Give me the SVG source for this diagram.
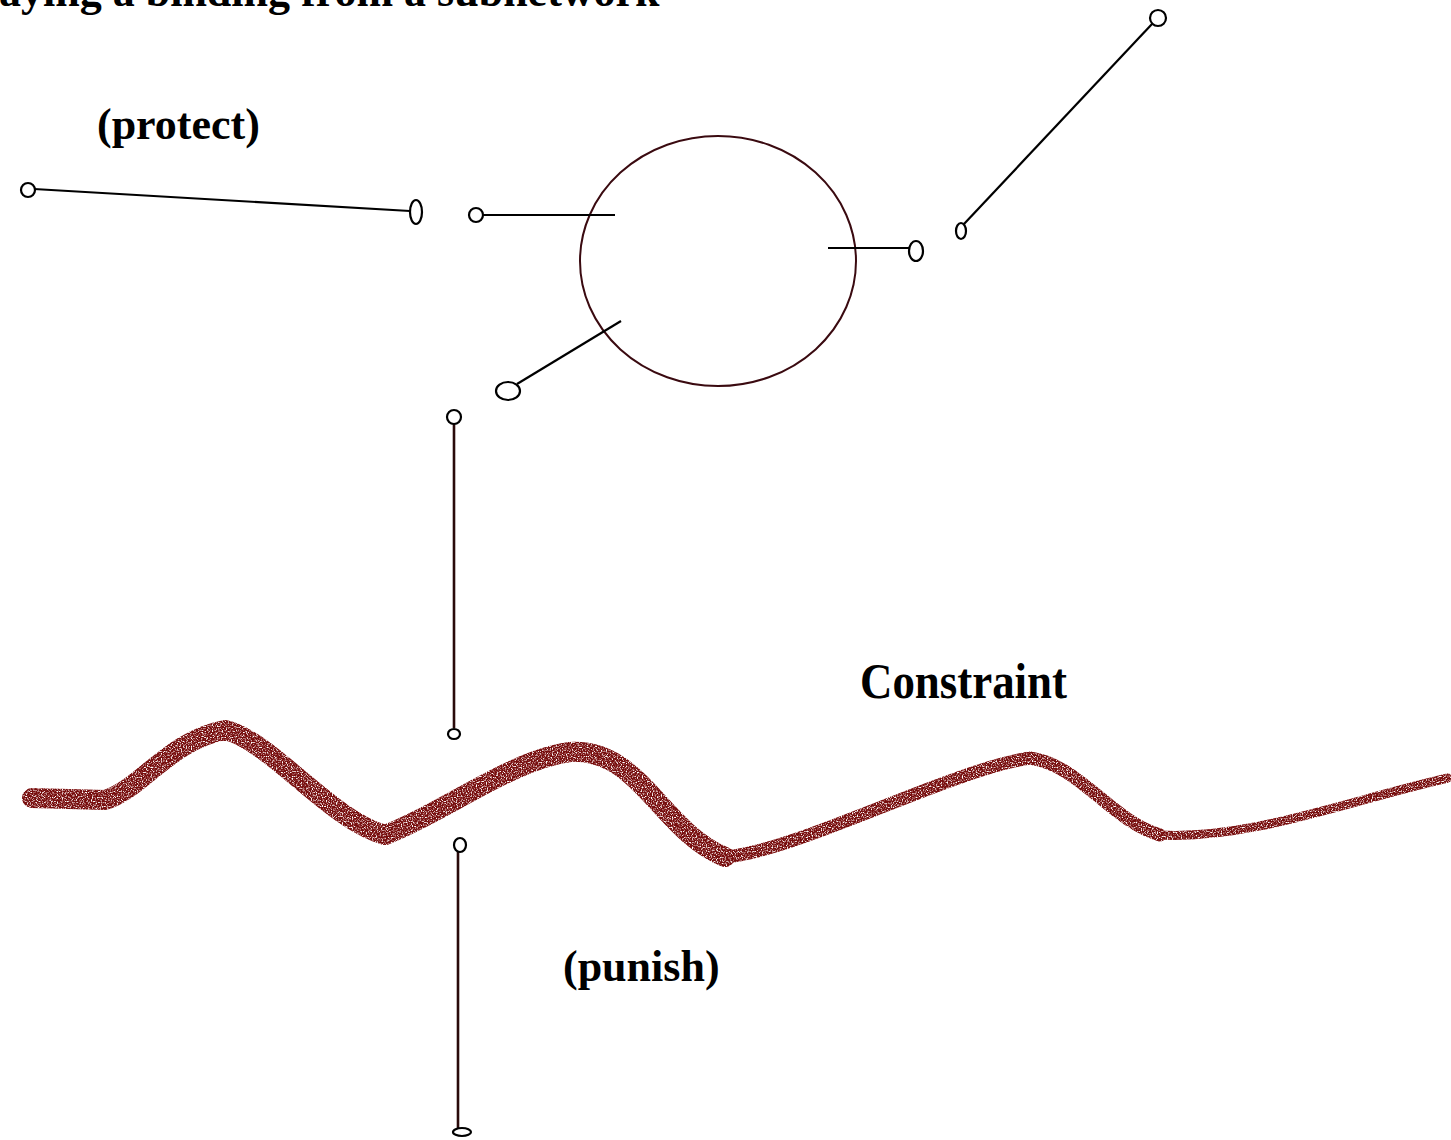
<svg xmlns="http://www.w3.org/2000/svg" width="1451" height="1140" viewBox="0 0 1451 1140">
<style>
.t{font-family:"Liberation Serif","Times New Roman",serif;fill:#000}
.b{font-weight:bold;font-size:44px}
.ln{stroke:#000;stroke-width:2.2;fill:none}
.pt{stroke:#000;stroke-width:2.2;fill:#fff}
.wave{fill:none;stroke:#760808;stroke-linecap:round;stroke-linejoin:round}
</style>
<defs>
<filter id="speckle" x="-5%" y="-20%" width="110%" height="140%">
<feTurbulence type="fractalNoise" baseFrequency="0.8" numOctaves="1" seed="3" result="n"/>
<feColorMatrix in="n" type="matrix" values="0 0 0 0 0  0 0 0 0 0  0 0 0 0 0  0 0 0 -4 2.9" result="m"/>
<feComposite in="SourceGraphic" in2="m" operator="in"/>
</filter>
</defs>
<rect width="1451" height="1140" fill="#fff"/>
<g id="title"><text class="t b" x="-1" y="6">aying a binding from a subnetwork</text></g>
<g id="label-protect"><text class="t b" x="97" y="139">(protect)</text></g>
<g id="label-constraint"><text class="t" x="860" y="698" font-size="50" font-weight="bold" textLength="207" lengthAdjust="spacingAndGlyphs">Constraint</text></g>
<g id="label-punish"><text class="t b" x="563" y="981">(punish)</text></g>

<g id="subnetwork"><ellipse cx="718" cy="261" rx="138" ry="125" fill="none" stroke="#3a0a10" stroke-width="2"/></g>

<g id="connectors">
<line class="ln" x1="34" y1="189" x2="410" y2="211"/>
<line class="ln" x1="483" y1="215" x2="615" y2="215"/>
<line class="ln" x1="828" y1="248" x2="910" y2="248"/>
<line class="ln" x1="964" y1="224" x2="1152" y2="24"/>
<line class="ln" x1="621" y1="321" x2="517" y2="384"/>
<line x1="454" y1="424" x2="454" y2="728" stroke="#2a0a0a" stroke-width="2.6"/>
<line x1="458" y1="852" x2="458" y2="1128" stroke="#2a0a0a" stroke-width="2.6"/>
</g>

<g id="ports">
<circle class="pt" cx="28" cy="190" r="7"/>
<ellipse class="pt" cx="416" cy="212" rx="6" ry="12"/>
<circle class="pt" cx="476" cy="215" r="7"/>
<ellipse class="pt" cx="916" cy="251" rx="7" ry="10"/>
<ellipse class="pt" cx="961" cy="231" rx="5" ry="8"/>
<circle class="pt" cx="1158" cy="18" r="8"/>
<ellipse class="pt" cx="508" cy="391" rx="12" ry="9"/>
<circle class="pt" cx="454" cy="417" r="7"/>
<ellipse class="pt" cx="454" cy="734" rx="6" ry="5"/>
<ellipse class="pt" cx="460" cy="845" rx="6" ry="7"/>
<ellipse class="pt" cx="462" cy="1132" rx="9" ry="4"/>
</g>

<g id="constraint-wave" filter="url(#speckle)">
<path class="wave" stroke-width="20" d="M 32 798 L 105 800 C 140 790 170 740 225 730 C 270 740 330 820 385 835 C 440 815 510 760 570 752 C 640 748 660 830 725 857"/>
<path class="wave" stroke-width="13" d="M 725 857 C 800 850 950 770 1030 758 C 1080 765 1110 820 1160 835"/>
<path class="wave" stroke-width="9" d="M 1160 835 C 1250 840 1350 800 1448 778"/>
</g>
</svg>
